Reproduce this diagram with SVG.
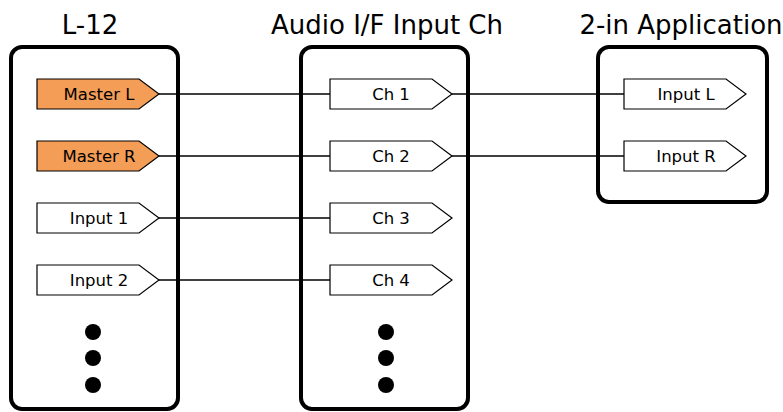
<svg xmlns="http://www.w3.org/2000/svg" width="783" height="412" viewBox="0 0 783 412">
<style>
.title{font-family:"DejaVu Sans",Verdana,sans-serif;font-size:26px;fill:#000;text-anchor:middle}
.lbl{font-family:"DejaVu Sans",Verdana,sans-serif;font-size:16.5px;fill:#000;text-anchor:middle}
.box{fill:#fff;stroke:#000;stroke-width:4}
.port{fill:#fff;stroke:#000;stroke-width:1.2}
.hot{fill:#f49d57}
.conn{stroke:#000;stroke-width:1.5;fill:none}
</style>
<defs>
<path id="pent" d="M0,-15 H102 L122,0 L102,15 H0 Z"/>
</defs>
<rect width="783" height="412" fill="#fff"/>
<g id="l12">
<text class="title" x="90" y="34">L-12</text>
<rect class="box" x="11" y="47" width="167" height="362" rx="11"/>
<g id="master-l"><use href="#pent" x="37" y="94" class="port hot"/><text class="lbl" x="99" y="100">Master L</text></g>
<g id="master-r"><use href="#pent" x="37" y="156" class="port hot"/><text class="lbl" x="99" y="162">Master R</text></g>
<g id="input-1"><use href="#pent" x="37" y="218" class="port"/><text class="lbl" x="99" y="224">Input 1</text></g>
<g id="input-2"><use href="#pent" x="37" y="280" class="port"/><text class="lbl" x="99" y="286">Input 2</text></g>
<circle cx="93" cy="332" r="8"/><circle cx="93" cy="358" r="8"/><circle cx="93" cy="385" r="8"/>
</g>
<g id="audio-if">
<text class="title" x="387" y="34">Audio I/F Input Ch</text>
<rect class="box" x="301" y="47" width="167" height="362" rx="11"/>
<g id="ch1"><use href="#pent" x="330" y="94" class="port"/><text class="lbl" x="391" y="100">Ch 1</text></g>
<g id="ch2"><use href="#pent" x="330" y="156" class="port"/><text class="lbl" x="391" y="162">Ch 2</text></g>
<g id="ch3"><use href="#pent" x="330" y="218" class="port"/><text class="lbl" x="391" y="224">Ch 3</text></g>
<g id="ch4"><use href="#pent" x="330" y="280" class="port"/><text class="lbl" x="391" y="286">Ch 4</text></g>
<circle cx="386" cy="332" r="8"/><circle cx="386" cy="358" r="8"/><circle cx="386" cy="385" r="8"/>
</g>
<g id="app">
<text class="title" x="681" y="34">2-in Application</text>
<rect class="box" x="598" y="47" width="169" height="155" rx="11"/>
<g id="input-l"><use href="#pent" x="624" y="94" class="port"/><text class="lbl" x="686" y="100">Input L</text></g>
<g id="input-r"><use href="#pent" x="624" y="156" class="port"/><text class="lbl" x="686" y="162">Input R</text></g>
</g>
<g id="connectors">
<line class="conn" x1="159" y1="94" x2="330" y2="94"/>
<line class="conn" x1="159" y1="156" x2="330" y2="156"/>
<line class="conn" x1="159" y1="218" x2="330" y2="218"/>
<line class="conn" x1="159" y1="280" x2="330" y2="280"/>
<line class="conn" x1="452" y1="94" x2="624" y2="94"/>
<line class="conn" x1="452" y1="156" x2="624" y2="156"/>
</g>
</svg>
